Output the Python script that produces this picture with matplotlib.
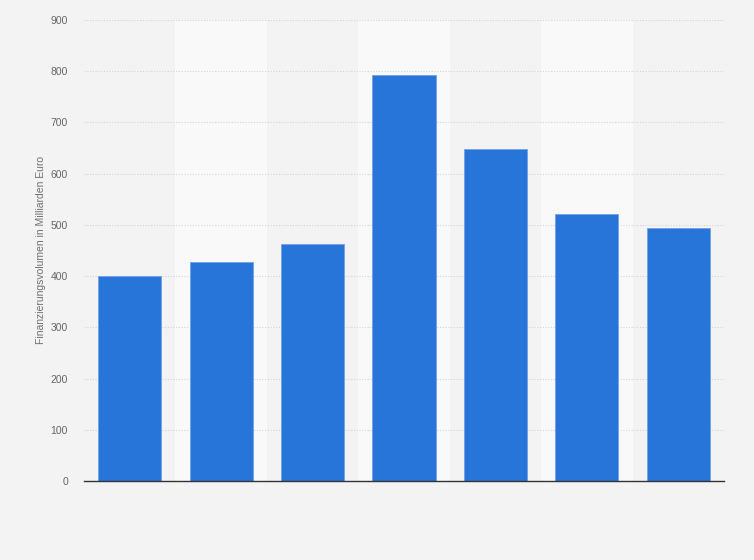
import matplotlib
matplotlib.use("Agg")
import matplotlib.pyplot as plt
import numpy as np

# values (no category labels are shown)
categories = ["1", "2", "3", "4", "5", "6", "7"]
values = [400, 428, 463, 793, 648, 521, 494]
yticks = [0, 100, 200, 300, 400, 500, 600, 700, 800, 900]

bg = "#f3f3f3"
band = "#f9f9f9"
bar_color = "#2775d9"

plt.rcParams["font.family"] = ["Liberation Sans", "DejaVu Sans"]

fig = plt.figure(figsize=(7.54, 5.60), dpi=100, facecolor=bg)
ax = fig.add_axes([84 / 754, 1 - 481 / 560, 640 / 754, 461 / 560])
ax.set_facecolor(bg)

x = np.arange(len(categories))
for i in x:
    if i % 2 == 1:
        ax.axvspan(i - 0.5, i + 0.5, color=band, zorder=0, lw=0)

ax.set_yticks(yticks)
ax.yaxis.grid(True, color="#d4d4d4", linestyle=(0, (1, 1.5)), lw=0.8, zorder=1)
ax.bar(x, values, width=0.69, color=bar_color, edgecolor="#6fa2e6", lw=0.6, zorder=2)

ax.set_xlim(-0.5, len(categories) - 0.5)
ax.set_ylim(0, 900)
ax.set_xticks([])
for s in ["top", "right", "left"]:
    ax.spines[s].set_visible(False)
ax.spines["bottom"].set_color("#333333")
ax.spines["bottom"].set_linewidth(1.0)
ax.spines["bottom"].set_zorder(3)

ax.tick_params(axis="y", length=0, pad=11.5, labelsize=7.5, labelcolor="#666666")
ax.set_ylabel("Finanzierungsvolumen in Milliarden Euro", fontsize=7.5, color="#707070", labelpad=3)

fig.savefig("out.png", dpi=100, facecolor=bg)
